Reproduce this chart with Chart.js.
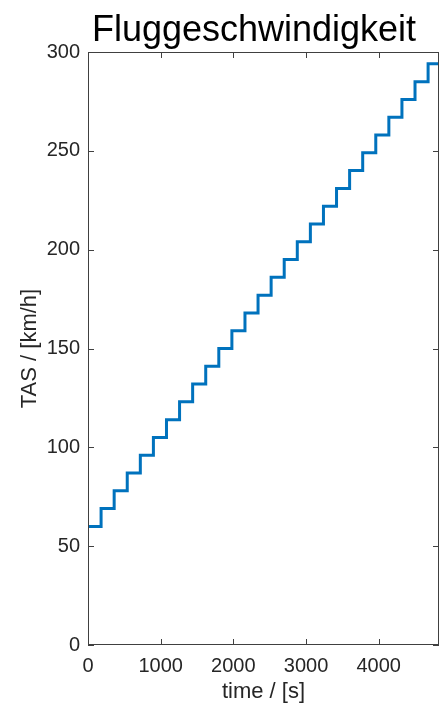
<!DOCTYPE html>
<html lang="de">
  <head>
    <meta charset="UTF-8" />
    <title>Fluggeschwindigkeit</title>
    <style>
      html, body { margin: 0; padding: 0; background: #fff; }
      .container { width: 442px; height: 704px; }
    </style>
  </head>
  <body>
    <div class="container">
      <canvas id="myChart" width="442" height="704"></canvas>
    </div>

    <script src="https://cdn.jsdelivr.net/npm/chart.js"></script>

    <script>
      // data: start time of each speed level and its TAS
      const times = [0, 180, 360, 540, 720, 900, 1080, 1260, 1440, 1620, 1800, 1980, 2160, 2340,
        2520, 2700, 2880, 3060, 3240, 3420, 3600, 3780, 3960, 4140, 4320, 4500, 4680, 4860];
      const tas = [60, 69, 78, 87, 96, 105, 114, 123, 132, 141, 150, 159, 168, 177,
        186, 195, 204, 213, 222, 231, 240, 249, 258, 267, 276, 285, 294, 294];
      const xTicks = [0, 1000, 2000, 3000, 4000];
      const yTicks = [0, 50, 100, 150, 200, 250, 300];

      const axisColor = "#404040";
      const textColor = "#262626";
      const font = "'Liberation Sans', Arial, sans-serif";

      const points = times.map((t, i) => ({ x: t, y: tas[i] }));

      // matlab style box with inward ticks + title
      const matlabBox = {
        id: "matlabBox",
        beforeDraw(chart) {
          const { ctx } = chart;
          ctx.save();
          ctx.fillStyle = "#fff";
          ctx.fillRect(0, 0, chart.width, chart.height);
          ctx.restore();
        },
        afterDraw(chart) {
          const {
            ctx,
            chartArea: { top, bottom, left, right },
            scales: { x, y },
          } = chart;
          const tl = 6;
          ctx.save();
          ctx.strokeStyle = axisColor;
          ctx.lineWidth = 1;
          ctx.strokeRect(left + 0.5, top + 0.5, right - left - 1, bottom - top - 1);
          ctx.beginPath();
          xTicks.forEach((v) => {
            const px = Math.round(x.getPixelForValue(v)) + 0.5;
            ctx.moveTo(px, bottom);
            ctx.lineTo(px, bottom - tl);
            ctx.moveTo(px, top);
            ctx.lineTo(px, top + tl);
          });
          yTicks.forEach((v) => {
            const py = Math.round(y.getPixelForValue(v)) + 0.5;
            ctx.moveTo(left, py);
            ctx.lineTo(left + tl, py);
            ctx.moveTo(right, py);
            ctx.lineTo(right - tl, py);
          });
          ctx.stroke();

          ctx.fillStyle = "#000";
          ctx.font = `36px ${font}`;
          ctx.textAlign = "center";
          ctx.textBaseline = "alphabetic";
          ctx.fillText("Fluggeschwindigkeit", 254, 41);
          ctx.restore();
        },
      };

      const ctx = document.getElementById("myChart").getContext("2d");
      new Chart(ctx, {
        type: "line",
        data: {
          datasets: [
            {
              data: points,
              borderColor: "#0072BD",
              borderWidth: 3,
              stepped: "before",
              pointRadius: 0,
              fill: false,
            },
          ],
        },
        options: {
          responsive: false,
          animation: false,
          layout: { padding: { top: 52, right: 3, left: 0, bottom: 0 } },
          plugins: {
            legend: { display: false },
            tooltip: { enabled: false },
          },
          scales: {
            x: {
              type: "linear",
              min: 0,
              max: 4830,
              afterBuildTicks(scale) {
                scale.ticks = xTicks.map((v) => ({ value: v }));
              },
              afterFit(scale) {
                scale.height = 59;
              },
              grid: { display: false, drawTicks: false },
              border: { display: false },
              ticks: {
                color: textColor,
                font: { family: font, size: 20 },
                padding: 9,
                maxRotation: 0,
                callback: (v) => String(v),
              },
              title: {
                display: true,
                text: "time / [s]",
                color: textColor,
                font: { family: font, size: 22, lineHeight: 1.1 },
                padding: { top: 0, bottom: 0 },
              },
            },
            y: {
              min: 0,
              max: 300,
              afterBuildTicks(scale) {
                scale.ticks = yTicks.map((v) => ({ value: v }));
              },
              afterFit(scale) {
                scale.width = 88;
              },
              grid: { display: false, drawTicks: false },
              border: { display: false },
              ticks: {
                color: textColor,
                font: { family: font, size: 20 },
                padding: 8,
                callback: (v) => String(v),
              },
              title: {
                display: true,
                text: "TAS / [km/h]",
                color: textColor,
                font: { family: font, size: 22, lineHeight: 1.1 },
                padding: { top: 18, bottom: 0 },
              },
            },
          },
        },
        plugins: [matlabBox],
      });
    </script>
  </body>
</html>
